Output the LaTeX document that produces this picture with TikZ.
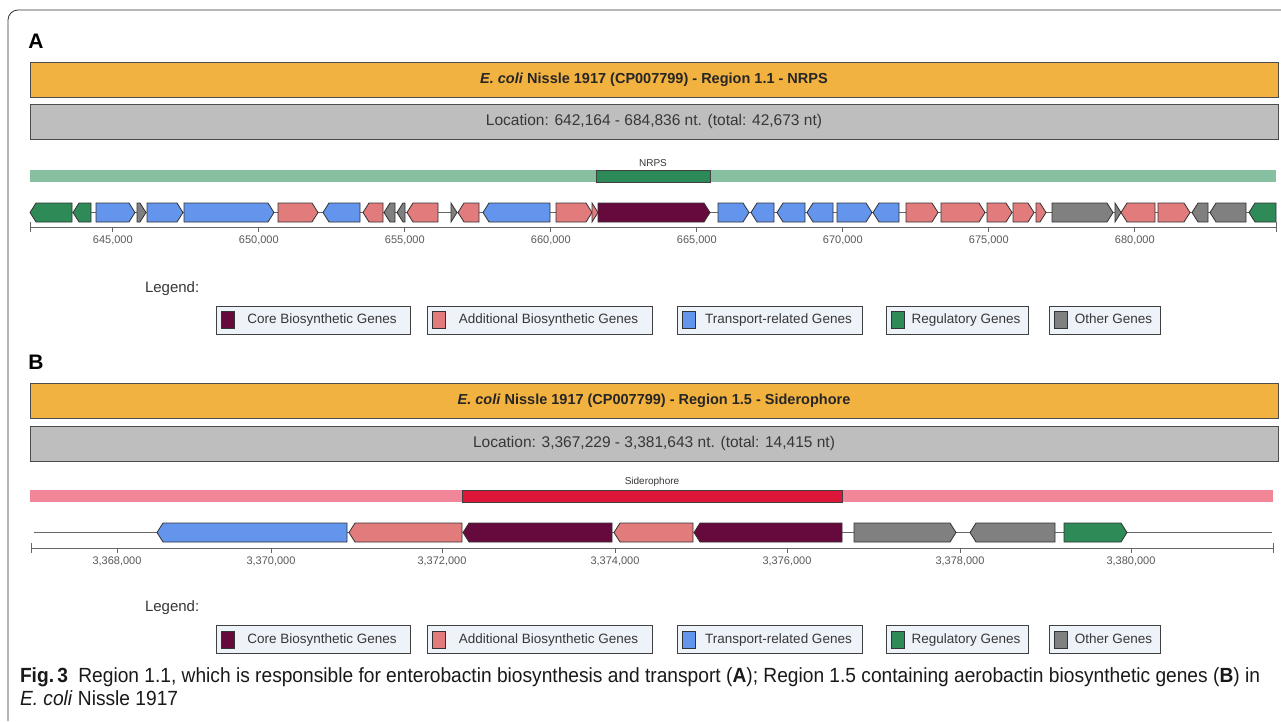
\documentclass[tikz,border=0pt]{standalone}
\usepackage{fontspec}
\setmainfont{Liberation Sans}
\newfontfamily\capfont[FakeStretch=0.935]{Liberation Sans}
\usepackage{tikz}
\usetikzlibrary{positioning, shapes.geometric, arrows.meta, fit, backgrounds, matrix, calc}
\usepackage{xcolor}

\definecolor{regionorange}{RGB}{242,178,64}
\definecolor{locgray}{RGB}{190,190,190}
\definecolor{nrpslight}{RGB}{134,192,160}
\definecolor{nrpsdark}{RGB}{44,138,88}
\definecolor{sidlight}{RGB}{240,134,152}
\definecolor{siddark}{RGB}{222,22,58}
\definecolor{corecol}{RGB}{102,10,62}
\definecolor{addcol}{RGB}{226,124,124}
\definecolor{transcol}{RGB}{100,149,237}
\definecolor{regcol}{RGB}{46,139,87}
\definecolor{othercol}{RGB}{128,128,128}
\definecolor{legfill}{RGB}{238,243,250}
\definecolor{txtgray}{RGB}{55,55,55}

% one gene arrow: start, end, direction (1 right / -1 left), colour, row centre
\newcommand{\gene}[5]{%
  \pgfmathsetmacro{\hd}{min(6,#2-#1)}%
  \ifnum#3>0
    \draw[genebody, fill=#4] (#1,#5-9.5) -- ({#2-\hd},#5-9.5) -- (#2,#5) -- ({#2-\hd},#5+9.5) -- (#1,#5+9.5) -- cycle;
  \else
    \draw[genebody, fill=#4] (#2,#5-9.5) -- ({#1+\hd},#5-9.5) -- (#1,#5) -- ({#1+\hd},#5+9.5) -- (#2,#5+9.5) -- cycle;
  \fi}

% legend entry: name, left x, width, centre y, colour, text
\newcommand{\legitem}[6]{%
  \node[legbox, minimum width=#3pt, anchor=west] (#1) at (#2,#4) {};
  \node[legsq, fill=#5, right=5pt of #1.west] (#1sq) {};
  \node[legtext] (#1txt) at ($(#1sq.east)!0.5!(#1.east)$) {#6};}

\begin{document}
\begin{tikzpicture}[x=1pt, y=-1pt,
  every node/.style={inner sep=0pt, outer sep=0pt},
  titlebar/.style={draw=black!70, fill=regionorange, minimum width=1248pt, minimum height=35pt, font=\fontsize{14.5}{17}\selectfont\bfseries, text=black!85},
  locbar/.style={draw=black!70, fill=locgray, minimum width=1248pt, minimum height=35pt, font=\fontsize{15.5}{18}\selectfont, text=txtgray},
  protobox/.style={draw=black!75, minimum height=12pt},
  tracklbl/.style={font=\fontsize{10}{12}\selectfont, text=txtgray},
  genebody/.style={draw=black!80, line width=0.8pt, line join=miter},
  axisline/.style={draw=black!60, line width=0.9pt},
  ticklbl/.style={font=\fontsize{11}{13}\selectfont, text=black!65},
  panel/.style={font=\fontsize{21}{24}\selectfont\bfseries},
  leghead/.style={font=\fontsize{15}{18}\selectfont, text=txtgray, anchor=west},
  legbox/.style={draw=black!75, fill=legfill, line width=0.9pt, minimum height=28pt},
  legsq/.style={draw=black!80, line width=0.8pt, minimum width=13pt, minimum height=17pt},
  legtext/.style={font=\fontsize{13.5}{16}\selectfont, text=txtgray, text height=10pt, text depth=3pt}]
\useasboundingbox (0,0) rectangle (1281,721);
\fill[white] (0,0) rectangle (1281,721);
\draw[black!80, line width=0.8pt, rounded corners=10pt] (1281,10) -- (8,10) -- (8,721);

% ---------------- panel A ----------------
\node[panel] (panA) at (36,41) {A};
\node[titlebar] (titleA) at (654,80) {\textit{E. coli} Nissle 1917 (CP007799) - Region 1.1 - NRPS};
\node[locbar] (locA) at (654,121.5) {Location: 642,164 - 684,836 nt. (total: 42,673 nt)};

\fill[nrpslight] (30,170) rectangle (1276,182);
\node[protobox, fill=nrpsdark, minimum width=114pt] (nrpsA) at (653,176) {};
\node[tracklbl, above=3pt of nrpsA] (nrpsAlbl) {NRPS};

\draw[black!60, line width=0.8pt] (30,212.5) -- (1276,212.5);
\foreach \a/\b/\d/\c in {30/72/-1/regcol, 73/91/-1/regcol, 96/135/1/transcol, 137/146/1/othercol,
    147/183/1/transcol, 184/274/1/transcol, 278/318/1/addcol, 323/360/-1/transcol,
    363/383/-1/addcol, 384/395/-1/othercol, 397/405/-1/othercol, 407/438/-1/addcol,
    451/457/1/othercol, 458/479/-1/addcol, 483/550/-1/transcol, 556/592/1/addcol,
    592/598/1/addcol, 598/710/1/corecol, 718/749/1/transcol, 751/774/-1/transcol,
    777/805/-1/transcol, 807/833/-1/transcol, 837/872/1/transcol, 873/899/-1/transcol,
    906/938/1/addcol, 941/985/1/addcol, 987/1012/1/addcol, 1013/1034/1/addcol,
    1036/1046/1/addcol, 1052/1113/1/othercol, 1115/1121/1/othercol, 1121/1155/-1/addcol,
    1158/1190/1/addcol, 1192/1208/-1/othercol, 1210/1246/-1/othercol, 1249/1276/-1/regcol}
  {\gene{\a}{\b}{\d}{\c}{212.5}}

\draw[axisline] (30,227) -- (1276,227);
\draw[axisline] (30,222) -- (30,232);
\draw[axisline] (1276,222) -- (1276,232);
\foreach \t in {645,650,...,680} {
  \pgfmathsetmacro{\tx}{30+(\t-642.164)*29.199}
  \draw[axisline] (\tx,227) -- (\tx,232);
  \node[ticklbl] (tickA\t) at (\tx,240.5) {\t,000};
}

\node[leghead] (legA) at (145,289) {Legend:};
\legitem{coreA}{216}{194}{320}{corecol}{Core Biosynthetic Genes}
\legitem{addA}{427}{225}{320}{addcol}{Additional Biosynthetic Genes}
\legitem{transA}{677}{185}{320}{transcol}{Transport-related Genes}
\legitem{regA}{886}{142}{320}{regcol}{Regulatory Genes}
\legitem{otherA}{1049}{111}{320}{othercol}{Other Genes}

% ---------------- panel B ----------------
\node[panel] (panB) at (36,362) {B};
\node[titlebar] (titleB) at (654,400.5) {\textit{E. coli} Nissle 1917 (CP007799) - Region 1.5 - Siderophore};
\node[locbar] (locB) at (654,443.5) {Location: 3,367,229 - 3,381,643 nt. (total: 14,415 nt)};

\fill[sidlight] (30,490) rectangle (1273,502);
\node[protobox, fill=siddark, minimum width=380pt] (sidB) at (652,496) {};
\node[tracklbl, above=3pt of sidB] (sidBlbl) {Siderophore};

\draw[black!60, line width=0.8pt] (34,532.5) -- (1272,532.5);
\foreach \a/\b/\d/\c in {157/347/-1/transcol, 349/462/-1/addcol, 463/612/-1/corecol,
    614/693/-1/addcol, 694/842/-1/corecol, 854/956/1/othercol, 970/1055/-1/othercol,
    1064/1127/1/regcol}
  {\gene{\a}{\b}{\d}{\c}{532.5}}

\draw[axisline] (31,548) -- (1273,548);
\draw[axisline] (31,543) -- (31,553);
\draw[axisline] (1273,543) -- (1273,553);
\foreach \t/\tx in {368/117, 370/271, 372/442, 374/615, 376/787, 378/960, 380/1131} {
  \draw[axisline] (\tx,548) -- (\tx,553);
  \node[ticklbl] (tickB\t) at (\tx,561) {3,\t,000};
}

\node[leghead] (legB) at (145,608) {Legend:};
\legitem{coreB}{216}{194}{639.5}{corecol}{Core Biosynthetic Genes}
\legitem{addB}{427}{225}{639.5}{addcol}{Additional Biosynthetic Genes}
\legitem{transB}{677}{185}{639.5}{transcol}{Transport-related Genes}
\legitem{regB}{886}{142}{639.5}{regcol}{Regulatory Genes}
\legitem{otherB}{1049}{111}{639.5}{othercol}{Other Genes}

% ---------------- caption ----------------
\node[anchor=north west, align=left, font=\capfont\fontsize{20.5}{23}\selectfont, text=black!90] (caption) at (20,668)
  {\textbf{Fig.\,3}\enspace Region 1.1, which is responsible for enterobactin biosynthesis and transport (\textbf{A}); Region 1.5 containing aerobactin biosynthetic genes (\textbf{B}) in\\
   \textit{E. coli} Nissle 1917};
\end{tikzpicture}
\end{document}
